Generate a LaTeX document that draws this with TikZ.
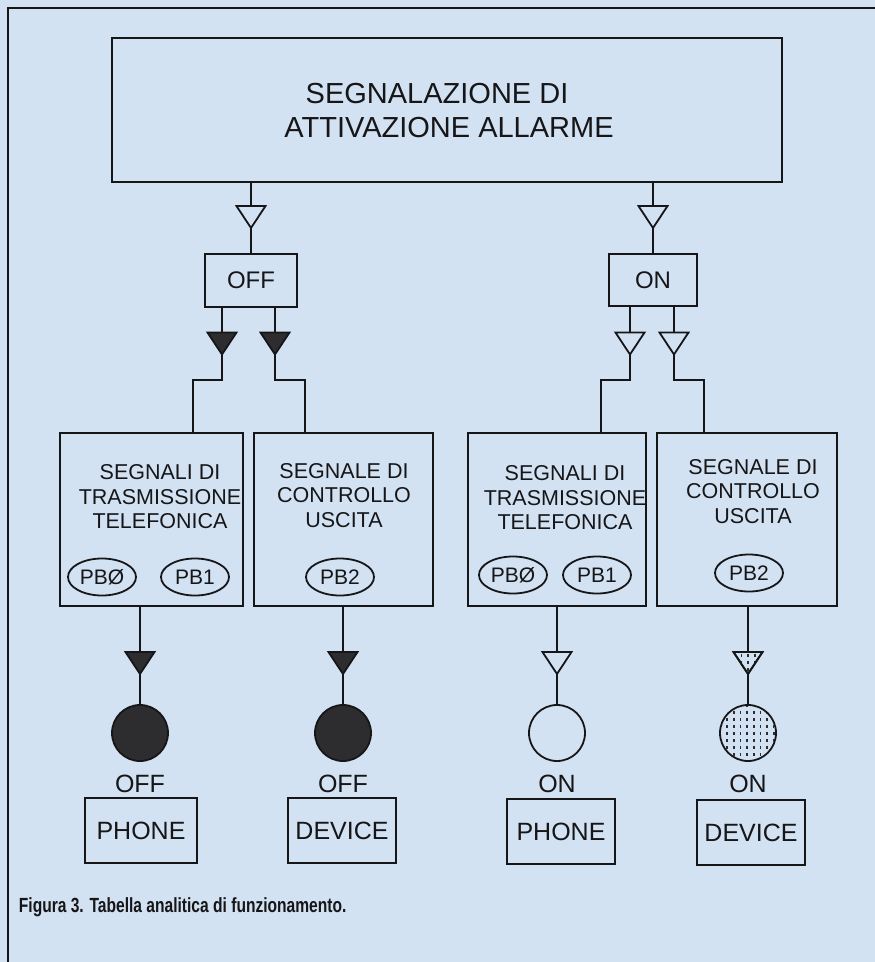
\documentclass[tikz,border=0pt]{standalone}
\usepackage{fontspec}
\setmainfont{Liberation Sans}
\newfontfamily\capfont[FakeStretch=0.76]{Liberation Sans}
\usetikzlibrary{shapes.geometric,calc}
\definecolor{bg}{RGB}{211,226,243}
\definecolor{ink}{RGB}{22,22,24}
\definecolor{dark}{RGB}{45,45,48}
\begin{document}
\begin{tikzpicture}[x=1pt,y=-1pt,line width=1.8pt,draw=ink,text=ink,
  box/.style={draw,rectangle,inner sep=0pt},
  btext/.style={align=center,inner sep=0pt,font=\fontsize{21.5}{24.5}\selectfont},
  pb/.style={draw,ellipse,minimum width=68pt,minimum height=37pt,inner sep=0pt,font=\fontsize{21}{24}\selectfont},
  lab/.style={anchor=base,inner sep=0pt,font=\fontsize{25}{28}\selectfont},
  dev/.style={box,minimum width=108pt,minimum height=65pt,font=\fontsize{25}{28}\selectfont},
  lamp/.style={draw,circle,minimum size=56pt,inner sep=0pt},
  tri/.pic={\draw[pic actions] (-14.5,-11) -- (14.5,-11) -- (0,11) -- cycle;}]
\useasboundingbox (0,0) rectangle (875,962);
\fill[bg] (0,0) rectangle (875,962);
\draw[line width=2pt] (8,962) -- (8,8) -- (875,8);

% main box
\node[box,minimum width=670pt,minimum height=144pt] (main) at (447,110) {};
\node[anchor=base,inner sep=0pt,font=\fontsize{29}{34}\selectfont] (t1) at (437,103) {SEGNALAZIONE DI};
\node[anchor=base,inner sep=0pt,font=\fontsize{29}{34}\selectfont] (t2) at (449,137) {ATTIVAZIONE ALLARME};

% OFF / ON boxes
\node[box,minimum width=92pt,minimum height=53pt,font=\fontsize{24}{28}\selectfont] (off) at (251,280.5) {OFF};
\node[box,minimum width=88pt,minimum height=52pt,font=\fontsize{24}{28}\selectfont] (on) at (653,280) {ON};

% signal boxes
\node[box,minimum width=183pt,minimum height=173pt] (b1) at (151.5,519.5) {};
\node[box,minimum width=179pt,minimum height=173pt] (b2) at (343.5,519.5) {};
\node[box,minimum width=178pt,minimum height=173pt] (b3) at (557,519.5) {};
\node[box,minimum width=180pt,minimum height=173pt] (b4) at (747,519.5) {};
\node[btext] (b1t) at (160,497) {SEGNALI DI\\TRASMISSIONE\\TELEFONICA};
\node[btext] (b2t) at (344,495.5) {SEGNALE DI\\CONTROLLO\\USCITA};
\node[btext] (b3t) at (565,498) {SEGNALI DI\\TRASMISSIONE\\TELEFONICA};
\node[btext] (b4t) at (753,491.5) {SEGNALE DI\\CONTROLLO\\USCITA};
\node[pb] (pb0a) at (102,577) {PBØ};
\node[pb] (pb1a) at (195,577) {PB1};
\node[pb] (pb2a) at (340,577) {PB2};
\node[pb] (pb0b) at (513,575) {PBØ};
\node[pb] (pb1b) at (597,575) {PB1};
\node[pb] (pb2b) at (749,573) {PB2};

% dotted lamp fill
\begin{scope}
  \clip (748,733) circle (27pt);
  \foreach \i in {-4,...,4}{
    \foreach \j in {-5,...,5}{
      \fill[dark] (746.3+\i*6.7,731.5+\j*7) rectangle ++(1.7,3.3);
    }
  }
\end{scope}

% lamps
\node[lamp,fill=dark] (c1) at (140,733) {};
\node[lamp,fill=dark] (c2) at (343,733) {};
\node[lamp] (c3) at (557,733) {};
\node[lamp] (c4) at (748,733) {};

% state labels
\node[lab] (l1) at (140,792) {OFF};
\node[lab] (l2) at (343,792) {OFF};
\node[lab] (l3) at (557,792) {ON};
\node[lab] (l4) at (748,792) {ON};

% device boxes
\node[dev,minimum width=112pt] (d1) at (141,830.5) {PHONE};
\node[dev] (d2) at (342,830.5) {DEVICE};
\node[dev] (d3) at (561,831.5) {PHONE};
\node[dev] (d4) at (751,832.5) {DEVICE};

% connectors
\draw (off.north |- main.south) -- (off.north);
\draw (on.north |- main.south) -- (on.north);
\draw ([xshift=-29pt]off.south) -- ++(0,72) -| ([xshift=41.5pt]b1.north);
\draw ([xshift=24pt]off.south) -- ++(0,72) -| ([xshift=-38.5pt]b2.north);
\draw ([xshift=-23pt]on.south) -- ++(0,73) -| ([xshift=44pt]b3.north);
\draw ([xshift=21pt]on.south) -- ++(0,73) -| ([xshift=-43pt]b4.north);
\draw (c1.north |- b1.south) -- (c1.north);
\draw (c2.north |- b2.south) -- (c2.north);
\draw (c3.north |- b3.south) -- (c3.north);
\draw (c4.north |- b4.south) -- (c4.north);

% triangles
\pic[fill=bg] at (251,217) {tri};
\pic[fill=bg] at (653,217) {tri};
\pic[fill=dark] at (222,343.5) {tri};
\pic[fill=dark] at (275,343.5) {tri};
\pic[fill=bg] at (630,343.5) {tri};
\pic[fill=bg] at (674,343.5) {tri};
\pic[fill=dark] at (140,663) {tri};
\pic[fill=dark] at (343,663) {tri};
\pic[fill=bg] at (557,663) {tri};
\pic[fill=bg] at (748,663) {tri};
\begin{scope}
  \clip (733.5,652) -- (762.5,652) -- (748,674) -- cycle;
  \foreach \i in {-2,...,2}{
    \foreach \j in {0,1,2}{
      \fill[dark] (747.2+\i*6.7,653.5+\j*7) rectangle ++(1.7,3.3);
    }
  }
\end{scope}
\draw (733.5,652) -- (762.5,652) -- (748,674) -- cycle;

% caption
\node[anchor=base west,inner sep=0pt,font=\capfont\bfseries\fontsize{20.5}{24}\selectfont] (cap) at (18,912) {Figura 3. Tabella analitica di funzionamento.};
\end{tikzpicture}
\end{document}
